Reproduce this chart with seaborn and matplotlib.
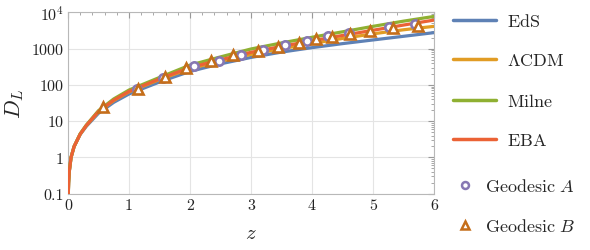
import pandas as pd
import matplotlib
matplotlib.use('Agg')
import matplotlib.pyplot as plt
from matplotlib.lines import Line2D
from matplotlib.ticker import FixedLocator, LogLocator, NullFormatter
import seaborn as sns

# redshift grid and luminosity distances
z = [0.005, 0.01, 0.02, 0.05, 0.1, 0.2, 0.3, 0.5, 0.75, 1, 1.5, 2, 2.5, 3, 3.5, 4, 4.5, 5, 5.5, 6]
eds = [0.1, 0.2, 0.4, 1.0, 2.0, 4.3, 7.2, 16.5, 33, 56, 120, 235, 380, 570, 800, 1060, 1370, 1730, 2180, 2750]
lcdm = [0.1, 0.2, 0.4, 1.0, 2.0, 4.4, 7.5, 18, 37, 64, 140, 280, 450, 690, 990, 1380, 1900, 2550, 3300, 4100]
milne = [0.1, 0.2, 0.4, 1.0, 2.0, 4.5, 7.8, 19.5, 41, 72, 160, 350, 590, 975, 1430, 2050, 2900, 4100, 5700, 7700]
eba = [0.1, 0.2, 0.4, 1.0, 2.0, 4.4, 7.6, 18.5, 38, 66, 146, 300, 490, 790, 1150, 1640, 2300, 3200, 4450, 6100]

geo_a_z = [1.13, 1.56, 2.07, 2.48, 2.83, 3.20, 3.55, 3.91, 4.26, 4.60, 5.26, 5.69]
geo_a_dl = [75, 155, 321, 464, 679, 934, 1279, 1652, 2183, 2636, 3866, 4766]
geo_b_z = [0.58, 1.14, 1.59, 1.93, 2.34, 2.71, 3.12, 3.45, 3.78, 4.07, 4.32, 4.63, 4.95, 5.33, 5.73]
geo_b_dl = [24, 77, 162, 287, 447, 667, 843, 1087, 1426, 1782, 2046, 2522, 3112, 3690, 4276]

models = ['EdS', 'ΛCDM', 'Milne', 'EBA']
labels = ['$\\mathrm{EdS}$', '$\\Lambda\\mathrm{CDM}$', '$\\mathrm{Milne}$', '$\\mathrm{EBA}$']
colors = ['#5e81b5', '#e19c24', '#8fb032', '#eb6235']

df = pd.concat([
    pd.DataFrame({'z': z, 'DL': vals, 'model': m})
    for m, vals in zip(models, [eds, lcdm, milne, eba])
])

sns.set_style('white')
plt.rcParams['font.family'] = 'cmr10'
plt.rcParams['mathtext.fontset'] = 'cm'
plt.rcParams['axes.unicode_minus'] = False

fig = plt.figure(figsize=(5.9, 2.51), dpi=100)
ax = fig.add_axes([68 / 590, 1 - 194.7 / 251, 366 / 590, 181.4 / 251])

sns.lineplot(data=df, x='z', y='DL', hue='model', hue_order=models,
             palette=dict(zip(models, colors)), linewidth=2.3, legend=False,
             ax=ax, sort=True, zorder=3)

ax.plot(geo_a_z, geo_a_dl, ls='', marker='o', ms=6, mfc='white',
        mec='#8778b3', mew=1.9, zorder=4)
ax.plot(geo_b_z, geo_b_dl, ls='', marker='^', ms=7, mfc='white',
        mec='#c56e1a', mew=1.9, zorder=5)

ax.set_yscale('log')
ax.set_xlim(0, 6)
ax.set_ylim(0.1, 1e4)

ax.xaxis.set_major_locator(FixedLocator([0, 1, 2, 3, 4, 5, 6]))
ax.xaxis.set_minor_locator(FixedLocator([i * 0.2 for i in range(31)]))
ax.set_xticklabels(['0', '1', '2', '3', '4', '5', '6'])
ax.yaxis.set_major_locator(FixedLocator([0.1, 1, 10, 100, 1000, 1e4]))
ax.yaxis.set_minor_locator(LogLocator(base=10, subs=range(2, 10)))
ax.yaxis.set_minor_formatter(NullFormatter())
ax.set_yticklabels(['0.1', '1', '10', '100', '1000', '$10^4$'])

ax.grid(True, which='major', color='#e4e4e4', lw=0.8)
for s in ax.spines.values():
    s.set_color('#b8b8b8')
    s.set_linewidth(0.8)
ax.tick_params(which='both', direction='in', color='#999999', top=True, right=True,
               labelsize=11.5, labelcolor='#222222', pad=3)
ax.tick_params(which='major', length=4, width=0.8)
ax.tick_params(which='minor', length=2, width=0.6)

ax.set_xlabel('$z$', fontsize=15, labelpad=9)
ax.set_ylabel('$D_L$', fontsize=16, labelpad=4)

line_handles = [Line2D([], [], color=c, lw=2.5) for c in colors]
leg1 = fig.legend(line_handles, labels, loc='upper left', bbox_to_anchor=(453 / 590, 1 - 13 / 251),
                  frameon=False, fontsize=13, handlelength=2.4, handletextpad=0.6,
                  labelspacing=1.3, borderpad=0, borderaxespad=0)

mark_handles = [
    Line2D([], [], ls='', marker='o', ms=5, mfc='white', mec='#8778b3', mew=1.8),
    Line2D([], [], ls='', marker='^', ms=5.5, mfc='white', mec='#c56e1a', mew=1.8),
]
leg2 = fig.legend(mark_handles, ['$\\mathrm{Geodesic}\\ A$', '$\\mathrm{Geodesic}\\ B$'],
                  loc='upper left', bbox_to_anchor=(456 / 590, 1 - 178 / 251),
                  frameon=False, fontsize=13, handlelength=1.0, handletextpad=0.6,
                  labelspacing=1.3, borderpad=0, borderaxespad=0)

fig.savefig('out.png', dpi=100)
